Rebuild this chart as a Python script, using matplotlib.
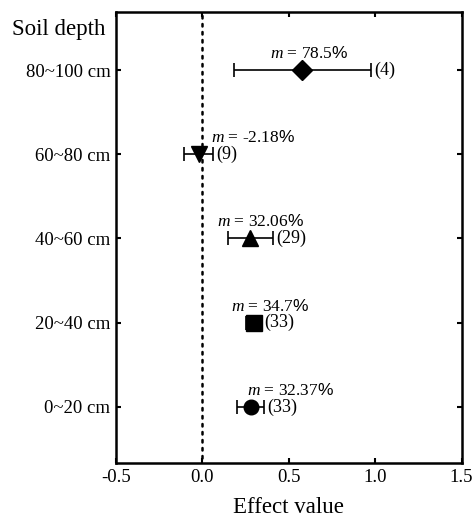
import matplotlib.pyplot as plt

plt.rcParams['font.family'] = 'Liberation Serif'
plt.rcParams['mathtext.fontset'] = 'custom'
plt.rcParams['mathtext.it'] = 'Liberation Serif:italic'
plt.rcParams['mathtext.rm'] = 'Liberation Serif'
plt.rcParams['mathtext.sf'] = 'Liberation Sans'

depths = ['0~20 cm', '20~40 cm', '40~60 cm', '60~80 cm', '80~100 cm']
effect = [0.280, 0.298, 0.278, -0.022, 0.579]
ci_low = [0.203, 0.250, 0.149, -0.107, 0.183]
ci_high = [0.357, 0.340, 0.410, 0.064, 0.977]
change_pct = ['32.37', '34.7', '32.06', '-2.18', '78.5']
n_obs = [33, 33, 29, 9, 4]

markers = ['o', 's', '^', 'v', 'D']
marker_sizes = [10.5, 12, 11, 11, 10]
# left edge of each "m = ..." label, in data units
label_x = [0.261, 0.168, 0.087, 0.048, 0.392]

fig, ax = plt.subplots(figsize=(4.73, 5.19), dpi=100)
fig.subplots_adjust(left=0.245, right=0.976, top=0.977, bottom=0.108)

ax.plot([0, 0], [-0.7, 4.8], color='black', lw=1.8,
        linestyle=(0, (1, 2.2)), dash_capstyle='round', zorder=1)

for i in range(len(depths)):
    err = [[effect[i] - ci_low[i]], [ci_high[i] - effect[i]]]
    ax.errorbar(effect[i], i, xerr=err, fmt=markers[i], color='black',
                ms=marker_sizes[i], elinewidth=1.2, capsize=4.7,
                capthick=1.2, zorder=3)
    ax.text(label_x[i], i + 0.19,
            r'$m$ = ' + change_pct[i] + r'$\mathsf{\%}$',
            fontsize=12.5, ha='left', va='center')
    ax.annotate('(%d)' % n_obs[i], xy=(ci_high[i], i), xytext=(2, 0),
                textcoords='offset points', fontsize=13,
                ha='left', va='center')

ax.set_xlim(-0.5, 1.5)
ax.set_ylim(-0.665, 4.69)
ax.set_xticks([-0.5, 0.0, 0.5, 1.0, 1.5])
ax.set_xticklabels(['-0.5', '0.0', '0.5', '1.0', '1.5'])
ax.set_yticks(range(len(depths)))
ax.set_yticklabels(depths)
ax.tick_params(axis='both', direction='in', length=3.5, width=1.5,
               labelsize=13.5, top=True, right=True, pad=4)
for s in ax.spines.values():
    s.set_linewidth(1.8)

ax.set_xlabel('Effect value', fontsize=16.5, labelpad=8)
fig.text(0.025, 0.943, 'Soil depth', fontsize=16.5, ha='left', va='center')

plt.savefig('out.png', dpi=100)
